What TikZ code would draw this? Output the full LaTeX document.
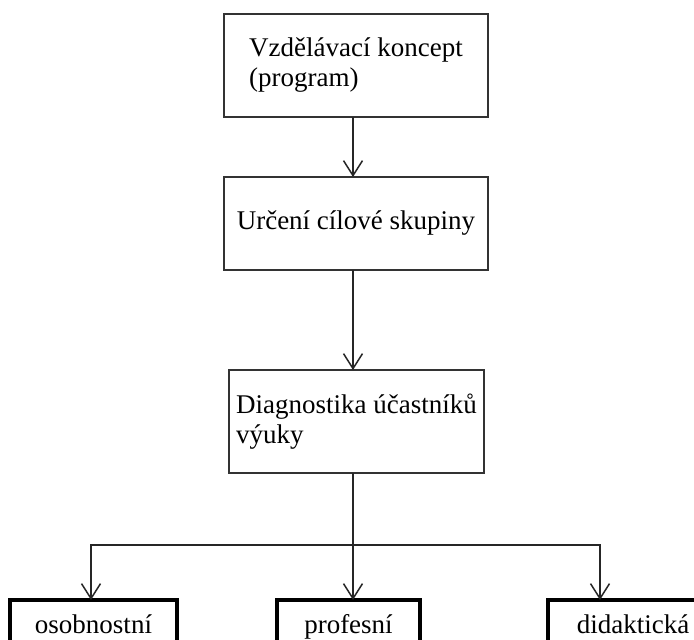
\documentclass[tikz,border=0pt]{standalone}
\usepackage{fontspec}
\setmainfont{Liberation Serif}
\usetikzlibrary{arrows.meta}
\begin{document}
\begin{tikzpicture}[x=1pt,y=-1pt,
  every node/.style={font=\fontsize{27}{30}\selectfont, outer sep=0pt},
  topbox/.style={draw=black!80, line width=1.5pt, align=left, inner sep=0pt},
  botbox/.style={draw=black, line width=3.5pt, inner xsep=0pt, inner ysep=11pt, text height=22pt, text depth=7pt},
  conn/.style={draw=black!85, line width=1.5pt},
  arr/.style={conn, -{Straight Barb[length=15pt,width=19pt,line width=1.5pt]}}
]
\clip (0,0) rectangle (694,640);
\fill[white] (0,0) rectangle (694,640);
\node[topbox, anchor=north west, minimum width=264pt, minimum height=103pt] (b1) at (224,14) {Vzdělávací koncept\\(program)};
\node[topbox, anchor=north west, minimum width=264pt, minimum height=93pt] (b2) at (224,177) {Určení cílové skupiny};
\node[topbox, anchor=north west, minimum width=255pt, minimum height=103pt] (b3) at (229,370) {Diagnostika účastníků\\výuky};
\node[botbox, anchor=north west, minimum width=167pt] (l) at (10,600) {osobnostní};
\node[botbox, anchor=north west, minimum width=143pt] (m) at (277,600) {profesní};
\node[botbox, anchor=north west, minimum width=170pt] (r) at (548,600) {didaktická};
\coordinate (ax) at (353,0);
\coordinate (jl) at (91,545);
\coordinate (jr) at (600,545);
\draw[arr] (b1.south -| ax) -- (b2.north -| ax);
\draw[arr] (b2.south -| ax) -- (b3.north -| ax);
\draw[arr] (b3.south -| ax) -- (m.north -| ax);
\draw[conn, line width=2pt, line cap=rect] (jl) -- (jr);
\draw[arr] (jl) -- (l.north -| jl);
\draw[arr] (jr) -- (r.north -| jr);
\end{tikzpicture}
\end{document}
